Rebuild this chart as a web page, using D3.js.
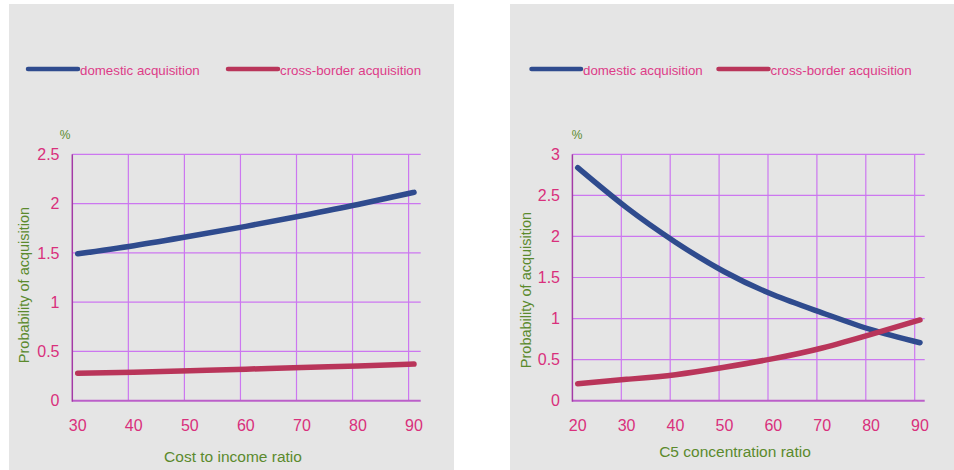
<!DOCTYPE html>
<html><head><meta charset="utf-8">
<script src="https://cdn.jsdelivr.net/npm/d3@7"></script>
<style>body{margin:0;background:#fff}svg{display:block}text{font-family:"Liberation Sans",Arial,sans-serif}</style>
</head><body><svg id="c" width="954" height="470"></svg>
<script>
// ---- data ----
const seriesNames = ["domestic acquisition", "cross-border acquisition"];
const leftX = [30, 40, 50, 60, 70, 80, 90];
const leftDomestic = [1.49, 1.573, 1.668, 1.769, 1.877, 1.99, 2.114];
const leftCross = [0.278, 0.288, 0.304, 0.32, 0.338, 0.352, 0.372];
const leftYTicks = [0, 0.5, 1, 1.5, 2, 2.5];
const leftXTitle = "Cost to income ratio";

const rightX = [20, 30, 40, 50, 60, 70, 80, 90];
const rightDomestic = [2.837, 2.35, 1.93, 1.57, 1.29, 1.07, 0.865, 0.706];
const rightCross = [0.207, 0.26, 0.317, 0.407, 0.512, 0.642, 0.808, 0.983];
const rightYTicks = [0, 0.5, 1, 1.5, 2, 2.5, 3];
const rightXTitle = "C5 concentration ratio";

const yTitle = "Probability of acquisition";
const unitLabel = "%";

// ---- styles ----
const C = {bg:"#e5e5e5", grid:"#cc77f0", axisL:"#a43aa6", axisB:"#bb5fc9",
  tick:"#d9307c", green:"#5b8a2d", legend:"#dd3c88", blue:"#2f4b8e", red:"#b9355a"};

const svg = d3.select("#c");

function panel(o){
  const g = svg.append("g");
  g.append("rect").attr("x",o.bgX).attr("y",4).attr("width",o.bgW).attr("height",466).attr("fill",C.bg);
  const x = d3.scaleLinear().domain([o.xs[0], o.xs[o.xs.length-1]]).range(o.xr);
  const y = d3.scaleLinear().domain([0, o.yTicks[o.yTicks.length-1]]).range([400.7,154.3]);
  const gx = v => x(v) - o.off;
  const left = gx(o.xs[0]), right = o.plotRight;
  // grid
  g.selectAll(".hg").data(o.yTicks.slice(1)).join("line")
    .attr("x1",left).attr("x2",right).attr("y1",d=>y(d)).attr("y2",d=>y(d))
    .attr("stroke",C.grid).attr("stroke-width",1.2);
  g.selectAll(".vg").data(o.xs.slice(1)).join("line")
    .attr("x1",d=>gx(d)).attr("x2",d=>gx(d)).attr("y1",y.range()[1]).attr("y2",y(0))
    .attr("stroke",C.grid).attr("stroke-width",1.2);
  // axes
  g.append("line").attr("x1",left).attr("x2",right).attr("y1",y(0)).attr("y2",y(0))
    .attr("stroke",C.axisB).attr("stroke-width",2);
  g.append("line").attr("x1",left).attr("x2",left).attr("y1",y.range()[1]).attr("y2",y(0)+1)
    .attr("stroke",C.axisL).attr("stroke-width",1.5);
  // tick labels
  g.selectAll(".yl").data(o.yTicks).join("text")
    .attr("x",o.yLabelRight).attr("y",d=>y(d)).attr("dy","0.36em").attr("text-anchor","end")
    .attr("font-size",16).attr("fill",C.tick).text(d=>d);
  g.selectAll(".xl").data(o.xs).join("text")
    .attr("x",d=>x(d)).attr("y",425.7).attr("dy","0.36em").attr("text-anchor","middle")
    .attr("font-size",16).attr("fill",C.tick).text(d=>d);
  // titles
  g.append("text").attr("x",o.xTitleX).attr("y",o.xTitleY).attr("dy","0.36em").attr("text-anchor","middle")
    .attr("font-size",15.5).attr("fill",C.green).text(o.xTitle);
  g.append("text").attr("transform",`translate(${o.yTitleX},${o.yTitleY}) rotate(-90)`).attr("dy","0.36em")
    .attr("text-anchor","middle").attr("font-size",14.5).attr("fill",C.green).text(yTitle);
  g.append("text").attr("x",o.pctX).attr("y",135).attr("dy","0.36em").attr("text-anchor","middle")
    .attr("font-size",12).attr("fill",C.green).text(unitLabel);
  // lines
  const line = d3.line().x(d=>x(d[0])).y(d=>y(d[1])).curve(d3.curveNatural);
  [[o.dom,C.blue],[o.cross,C.red]].forEach(([vals,col])=>{
    g.append("path").datum(o.xs.map((v,i)=>[v,vals[i]])).attr("d",line)
      .attr("fill","none").attr("stroke",col).attr("stroke-width",5.5).attr("stroke-linecap","round");
  });
  // legend
  o.legend.forEach((L,i)=>{
    g.append("line").attr("x1",L[0]).attr("x2",L[1]).attr("y1",69).attr("y2",69)
      .attr("stroke",i?C.red:C.blue).attr("stroke-width",4.5).attr("stroke-linecap","round");
    g.append("text").attr("x",L[1]+2).attr("y",70.5).attr("dy","0.36em").attr("font-size",13.3)
      .attr("fill",C.legend).text(seriesNames[i]);
  });
}

panel({bgX:9,bgW:445,xs:leftX,xr:[77.7,414],off:5.4,plotRight:420.7,yTicks:leftYTicks,
  dom:leftDomestic,cross:leftCross,yLabelRight:59.5,xTitle:leftXTitle,xTitleX:233,xTitleY:456.7,
  yTitleX:24,yTitleY:285,pctX:65,legend:[[28,78],[228,278]]});
panel({bgX:510,bgW:444,xs:rightX,xr:[577.7,920],off:5.3,plotRight:924.7,yTicks:rightYTicks,
  dom:rightDomestic,cross:rightCross,yLabelRight:560,xTitle:rightXTitle,xTitleX:735,xTitleY:451.7,
  yTitleX:525.7,yTitleY:290,pctX:577,legend:[[531.5,581],[718.5,768.5]]});
</script></body></html>
